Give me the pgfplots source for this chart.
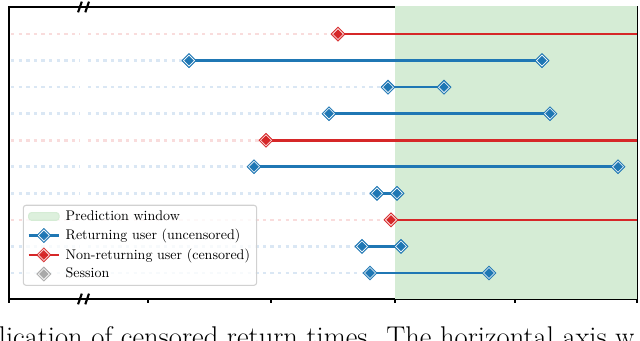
\documentclass[border=0pt]{standalone}
\usepackage{pgfplots}
\pgfplotsset{compat=1.18}

\definecolor{tabblue}{HTML}{1F77B4}
\definecolor{tabred}{HTML}{D62728}
\definecolor{winfill}{RGB}{213,236,213}
\definecolor{faintblue}{RGB}{218,231,244}
\definecolor{faintred}{RGB}{249,220,220}

\pgfplotsset{
  outerm/.style={only marks, mark=square*, mark size=3.8pt,
    mark options={solid, rotate=45, draw=#1, fill=#1, line width=0.3pt}},
  innerm/.style={only marks, mark=square*, mark size=2.9pt,
    mark options={solid, rotate=45, draw=white, fill=#1, line width=0.45pt}},
  faint/.style={#1, line width=2pt, dash pattern=on 2.5pt off 3.2pt, forget plot},
}

\begin{document}
\begin{tikzpicture}
\useasboundingbox (0,0) rectangle (480pt,255.75pt);
\clip (0,0) rectangle (480pt,255.75pt);
\begin{axis}[
    at={(6.75pt,31.5pt)}, anchor=south west,
    scale only axis, width=471pt, height=219pt,
    xmin=9, xmax=637, ymin=0.02, ymax=11.02,
    xtick={9,148,271,395,515,637}, xticklabels={},
    xtick pos=lower, ytick=\empty,
    tick align=outside, major tick length=3pt,
    axis line style={line width=0.8pt},
    every tick/.style={black, line width=0.8pt},
    clip mode=individual,
    unbounded coords=jump,
    legend cell align=left,
    legend image code/.code={},
    legend style={at={(0.022,0.045)}, anchor=south west,
      draw=black!18, rounded corners=2pt, line width=0.8pt,
      fill=white, fill opacity=0.8, text opacity=1,
      font=\fontsize{10.5}{12.6}\selectfont, row sep=1.2pt,
      /tikz/every odd column/.append style={column sep=2pt}},
]
% legend
\addlegendimage{legend image code/.code={\fill[winfill] (0cm,-0.1cm) rectangle (0.8cm,0.1cm);}}
\addlegendentry{Prediction window}
\addlegendimage{legend image code/.code={
  \draw[tabblue, line width=2pt] (0cm,0cm) -- (0.8cm,0cm);
  \draw plot[only marks, mark=square*, mark size=3.8pt, mark options={rotate=45, draw=tabblue, fill=tabblue, line width=0.3pt}] coordinates {(0.4cm,0cm)};
  \draw plot[only marks, mark=square*, mark size=2.9pt, mark options={rotate=45, draw=white, fill=tabblue, line width=0.45pt}] coordinates {(0.4cm,0cm)};}}
\addlegendentry{Returning user (uncensored)}
\addlegendimage{legend image code/.code={
  \draw[tabred, line width=2pt] (0cm,0cm) -- (0.8cm,0cm);
  \draw plot[only marks, mark=square*, mark size=3.8pt, mark options={rotate=45, draw=tabred, fill=tabred, line width=0.3pt}] coordinates {(0.4cm,0cm)};
  \draw plot[only marks, mark=square*, mark size=2.9pt, mark options={rotate=45, draw=white, fill=tabred, line width=0.45pt}] coordinates {(0.4cm,0cm)};}}
\addlegendentry{Non-returning user (censored)}
\addlegendimage{legend image code/.code={
  \draw plot[only marks, mark=square*, mark size=3.8pt, mark options={rotate=45, draw=black!35, fill=black!35, line width=0.3pt}] coordinates {(0.4cm,0cm)};
  \draw plot[only marks, mark=square*, mark size=2.9pt, mark options={rotate=45, draw=white, fill=black!35, line width=0.45pt}] coordinates {(0.4cm,0cm)};}}
\addlegendentry{Session}

% prediction window
\addplot[fill=winfill, draw=none, forget plot] coordinates {(395,0) (395,12) (637,12) (637,0)} -- cycle;

% faint lead-in lines before the first session
\addplot[faint=faintblue] coordinates {
  (11,9) (80,9) (nan,nan) (88,9) (189,9) (nan,nan)
  (11,8) (80,8) (nan,nan) (88,8) (388,8) (nan,nan)
  (11,7) (80,7) (nan,nan) (88,7) (329,7) (nan,nan)
  (11,5) (80,5) (nan,nan) (88,5) (254,5) (nan,nan)
  (11,4) (80,4) (nan,nan) (88,4) (377,4) (nan,nan)
  (11,2) (80,2) (nan,nan) (88,2) (362,2) (nan,nan)
  (11,1) (80,1) (nan,nan) (88,1) (370,1)
};
\addplot[faint=faintred] coordinates {
  (11,10) (80,10) (nan,nan) (88,10) (338,10) (nan,nan)
  (11,6) (80,6) (nan,nan) (88,6) (266,6) (nan,nan)
  (11,3) (80,3) (nan,nan) (88,3) (391,3)
};

% returning users: first and return session
\addplot[tabblue, line width=2pt, forget plot] coordinates {
  (189,9) (542,9) (nan,nan)
  (388,8) (444,8) (nan,nan)
  (329,7) (550,7) (nan,nan)
  (254,5) (618,5) (nan,nan)
  (377,4) (397,4) (nan,nan)
  (362,2) (401,2) (nan,nan)
  (370,1) (489,1)
};
% non-returning users: censored to the right
\addplot[tabred, line width=2pt, forget plot] coordinates {
  (338,10) (637,10) (nan,nan)
  (266,6) (637,6) (nan,nan)
  (391,3) (637,3)
};

\addplot[outerm=tabblue, forget plot] coordinates {
  (189,9) (542,9) (388,8) (444,8) (329,7) (550,7) (254,5) (618,5)
  (377,4) (397,4) (362,2) (401,2) (370,1) (489,1)
};
\addplot[innerm=tabblue, forget plot] coordinates {
  (189,9) (542,9) (388,8) (444,8) (329,7) (550,7) (254,5) (618,5)
  (377,4) (397,4) (362,2) (401,2) (370,1) (489,1)
};
\addplot[outerm=tabred, forget plot] coordinates {(338,10) (266,6) (391,3)};
\addplot[innerm=tabred, forget plot] coordinates {(338,10) (266,6) (391,3)};

% axis break marks
\draw[line width=1.6pt] ([xshift=-5.2pt,yshift=-4pt]axis cs:85,0.02) -- ++(2.8pt,8pt);
\draw[line width=1.6pt] ([xshift=0.2pt,yshift=-4pt]axis cs:85,0.02) -- ++(2.8pt,8pt);
\draw[line width=1.6pt] ([xshift=-5.2pt,yshift=-4pt]axis cs:85,11.02) -- ++(2.8pt,8pt);
\draw[line width=1.6pt] ([xshift=0.2pt,yshift=-4pt]axis cs:85,11.02) -- ++(2.8pt,8pt);
\end{axis}
\node[anchor=base west, inner sep=0pt, font=\fontsize{21.4}{24}\selectfont] at (-1pt,-4pt) {lication of censored return times. The horizontal axis w};
\end{tikzpicture}
\end{document}
